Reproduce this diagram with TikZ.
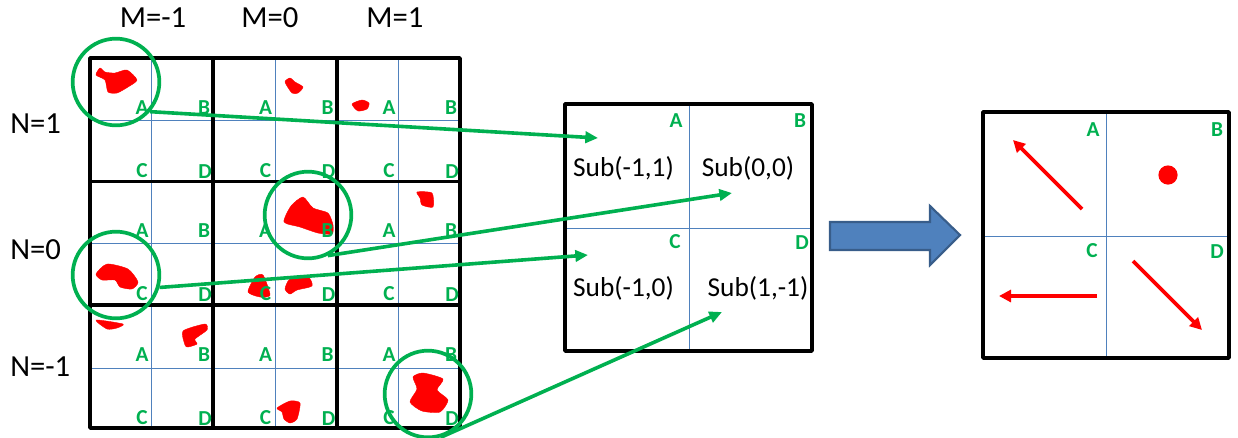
\documentclass[tikz,border=0pt]{standalone}
\usepackage{fontspec}
\setmainfont{Carlito}
\usepackage{tikz}
\usetikzlibrary{arrows.meta, calc}
\definecolor{subgreen}{RGB}{0,176,80}
\definecolor{thinblue}{RGB}{79,129,189}
\definecolor{darkblue}{RGB}{56,93,138}
\tikzset{
    heavy/.style={line width=2.8pt, line join=round},
    thin blue/.style={draw=thinblue, line width=0.75pt},
    letter/.style={text=subgreen, font=\fontsize{16}{18}\selectfont\bfseries, inner sep=0pt},
    label big/.style={text=black, font=\fontsize{20.5}{24}\selectfont, inner sep=0pt},
    label axis/.style={text=black, font=\fontsize{23}{26}\selectfont, inner sep=0pt},
    blob/.style={fill=red, draw=red, line width=0.3pt},
    ring/.style={circle, draw=subgreen, line width=2.8pt, minimum size=65pt, inner sep=0pt},
    link/.style={draw=subgreen, line width=2.7pt, -{Triangle[length=9.5pt,width=8.5pt]}},
    motion/.style={draw=red, line width=2.7pt, -{Triangle[length=9pt,width=9pt]}}
}
\begin{document}
\begin{tikzpicture}[x=0.75pt, y=-0.75pt]
    \clip (0,0) rectangle (1238,437);

    % blobs in the big grid
    \fill[blob] plot[smooth cycle, tension=0.4] coordinates {(96,75) (100,68) (105,72) (115,73) (127,70) (137,80) (128,87) (117,93) (108,92) (105,80)};
    \fill[blob] plot[smooth cycle, tension=0.4] coordinates {(285,82) (290,78) (295,82) (303,87) (298,93) (292,93)};
    \fill[blob] plot[smooth cycle, tension=0.4] coordinates {(352,104) (362,100) (369,103) (367,109) (358,111)};
    \fill[blob] plot[smooth cycle, tension=0.4] coordinates {(284,222) (291,206) (303,197) (313,208) (328,213) (333,225) (332,234) (318,233) (300,227)};
    \fill[blob] plot[smooth cycle, tension=0.4] coordinates {(417,192) (432,193) (433,207) (422,205) (420,198)};
    \fill[blob] plot[smooth cycle, tension=0.4] coordinates {(96,274) (107,264) (128,269) (138,282) (132,289) (120,287) (115,280) (102,280)};
    \fill[blob] plot[smooth cycle, tension=0.4] coordinates {(248,292) (255,277) (263,275) (270,295) (260,297)};
    \fill[blob] plot[smooth cycle, tension=0.4] coordinates {(285,289) (290,279) (308,277) (312,286) (297,290) (290,294)};
    \fill[blob] plot[smooth cycle, tension=0.4] coordinates {(96,320) (123,324) (117,328) (107,329)};
    \fill[blob] plot[smooth cycle, tension=0.4] coordinates {(183,331) (205,324) (207,330) (195,339) (197,344) (188,347) (185,345)};
    \fill[blob] plot[smooth cycle, tension=0.4] coordinates {(277,408) (290,401) (300,403) (297,419) (290,423) (284,419) (282,412)};
    \fill[blob] plot[smooth cycle, tension=0.4] coordinates {(413,377) (423,373) (443,379) (437,390) (448,400) (440,412) (422,411) (410,402) (417,389)};

    % big grid
    \foreach \x in {151.5, 275, 398.5} {
        \draw[thin blue] (\x,58) -- (\x,428);
    }
    \foreach \y in {120, 243, 368} {
        \draw[thin blue] (90,\y) -- (460,\y);
    }
    \foreach \x in {213, 337} {
        \draw[heavy] (\x,58) -- (\x,428);
    }
    \foreach \y in {181.5, 305} {
        \draw[heavy] (90,\y) -- (460,\y);
    }
    \draw[heavy] (90,58) rectangle (460,428);

    \foreach \cx/\m in {90/a, 213.5/b, 337/c} {
        \foreach \cy/\r in {58/x, 181/y, 305/z} {
            \node[letter] (\m\r A) at (\cx+52,\cy+50) {A};
            \node[letter] (\m\r B) at (\cx+114,\cy+50) {B};
            \node[letter] (\m\r C) at (\cx+52,\cy+113) {C};
            \node[letter] (\m\r D) at (\cx+115,\cy+114) {D};
        }
    }

    \foreach \x/\t/\n in {153/M=-1/ma, 270/M=0/mb, 395/M=1/mc} {
        \node[label axis] (\n) at (\x,18) {\t};
    }
    \foreach \y/\t/\n in {124/N=1/na, 250/N=0/nb, 367/N=-1/nc} {
        \node[label axis, anchor=west] (\n) at (10,\y) {\t};
    }

    % middle square
    \draw[thin blue] (689,104) -- (689,351) (565,228) -- (812,228);
    \draw[heavy] (565,104) rectangle (812,351);
    \foreach \x/\y/\n in {676/121/A, 800/121/B, 675/242/C, 802/243/D} {
        \node[letter] (mid\n) at (\x,\y) {\n};
    }
    \node[label big] (subA) at (623.5,168) {Sub(-1,1)};
    \node[label big] (subB) at (748,168) {Sub(0,0)};
    \node[label big] (subC) at (623.5,288) {Sub(-1,0)};
    \node[label big] (subD) at (758,288) {Sub(1,-1)};

    % circled cells and the arrows leaving them
    \node[ring] (ringA) at (116,82) {};
    \node[ring] (ringB) at (308,215) {};
    \node[ring] (ringC) at (116,275) {};
    \node[ring] (ringD) at (428,394) {};
    \coordinate (endA) at (598,138);
    \coordinate (endB) at (732,193);
    \coordinate (endC) at (588,255);
    \coordinate (endD) at (722,312);
    \draw[link] (ringA.-41) -- (endA);
    \draw[link] (ringB.-64) -- (endB);
    \draw[link] (ringC.-16) -- (endC);
    \draw[link] (ringD.-74) -- (endD);

    % block arrow
    \draw[fill=thinblue, draw=darkblue, line width=1.6pt, line join=miter]
        (830,222) -- (930,222) -- (930,206) -- (960,235) -- (930,265) -- (930,250) -- (830,250) -- cycle;

    % right square
    \draw[thin blue] (1106,112) -- (1106,358) (983,236) -- (1229,236);
    \draw[heavy] (983,112) rectangle (1229,358);
    \foreach \x/\y/\n in {1093/130/A, 1217/130/B, 1092/251/C, 1217/252/D} {
        \node[letter] (right\n) at (\x,\y) {\n};
    }
    \coordinate (fromA) at (1082,209);
    \coordinate (toA) at (1013,140);
    \coordinate (fromC) at (1097,296);
    \coordinate (toC) at (999,296);
    \coordinate (fromD) at (1133,261);
    \coordinate (toD) at (1202,330);
    \draw[motion] (fromA) -- (toA);
    \draw[motion] (fromC) -- (toC);
    \draw[motion] (fromD) -- (toD);
    \fill[red] (1168,175) circle (7.2pt);
\end{tikzpicture}
\end{document}
